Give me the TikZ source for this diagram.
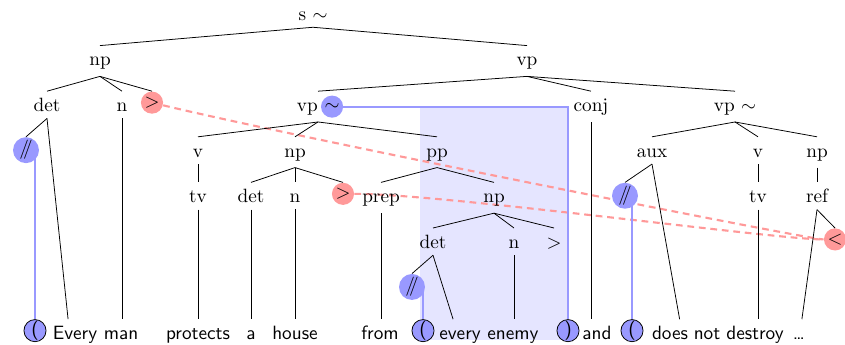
\documentclass[tikz,border=0pt]{standalone}
\usetikzlibrary{positioning,backgrounds,calc}

\begin{document}
\begin{tikzpicture}[
    x=0.52pt, y=-0.52pt,
    cat/.style={anchor=north, text height=7pt},
    wrd/.style={anchor=north, font=\sffamily, text height=7pt},
    dot/.style={circle, anchor=north, inner sep=0pt, minimum size=11.5pt},
    bluedot/.style={dot, fill=blue!40},
    reddot/.style={dot, fill=red!40},
    slashdot/.style={bluedot, minimum size=13.5pt},
    pardot/.style={bluedot, draw=black, font=\sffamily},
    scopeline/.style={blue!40, line width=1pt},
    moveline/.style={red!40, line width=1.1pt, dash pattern=on 3.5pt off 2.5pt}
]
\useasboundingbox (0,0) rectangle (845,345);

% top of the tree
\node[cat] (s) at (313,0) {s $\sim$};
\node[cat] (npT) at (100,45.6) {np};
\node[cat] (vpT) at (527,45.6) {vp};

% subject
\node[cat] (detA) at (47,91.2) {det};
\node[cat] (nA) at (122,91.2) {n};
\node[reddot] (gtA) at (152,91.2) {$>$};
\node[slashdot] (slashA) at (26,136.8) {/\kern-3pt/};

% first conjunct
\node[cat] (vpa) at (318,91.2) {vp $\sim$};
\node[bluedot, anchor=center] (tildeA) at ([xshift=-7.2pt, yshift=2.5pt]vpa.base east) {$\sim$};
\node[cat] (vA) at (198,136.8) {v};
\node[cat] (npA) at (295,136.8) {np};
\node[cat] (pp) at (437,136.8) {pp};
\node[cat] (tvA) at (198,182.4) {tv};
\node[cat] (detB) at (251,182.4) {det};
\node[cat] (nB) at (295,182.4) {n};
\node[reddot] (gtB) at (343,182.4) {$>$};
\node[cat] (prep) at (381,182.4) {prep};
\node[cat] (npB) at (494,182.4) {np};
\node[cat] (detC) at (433,228) {det};
\node[cat] (nC) at (514,228) {n};
\node[cat] (gtC) at (554,228) {$>$};
\node[slashdot] (slashB) at (412,273.6) {/\kern-3pt/};

% conjunction and second conjunct
\node[cat] (conj) at (591,91.2) {conj};
\node[cat] (vpb) at (735,91.2) {vp $\sim$};
\node[cat] (aux) at (652,136.8) {aux};
\node[cat] (vB) at (758,136.8) {v};
\node[cat] (npC) at (817,136.8) {np};
\node[slashdot] (slashC) at (625,182.4) {/\kern-3pt/};
\node[cat] (tvB) at (758,182.4) {tv};
\node[cat] (ref) at (817,182.4) {ref};
\node[reddot] (ltA) at (835,228) {$<$};

% the sentence
\node[pardot] (lparA) at (35,319.2) {(};
\node[wrd] (Every) at (75,319.2) {Every};
\node[wrd] (man) at (121,319.2) {man};
\node[wrd] (protects) at (198,319.2) {protects};
\node[wrd] (a) at (251,319.2) {a};
\node[wrd] (house) at (295,319.2) {house};
\node[wrd] (from) at (380,319.2) {from};
\node[pardot] (lparB) at (423,319.2) {(};
\node[wrd] (every) at (460,319.2) {every};
\node[wrd] (enemy) at (513,319.2) {enemy};
\node[pardot] (rpar) at (568,319.2) {)};
\node[wrd] (and) at (597,319.2) {and};
\node[pardot] (lparC) at (632,319.2) {(};
\node[wrd] (does) at (670,319.2) {does};
\node[wrd] (not) at (707,319.2) {not};
\node[wrd] (destroy) at (755,319.2) {destroy};
\node[wrd] (dots) at (799,319.2) {\dots};

% branches
\foreach \a/\b in {s/npT, s/vpT, npT/detA, npT/nA, npT/gtA, detA/slashA,
    vpT/vpa, vpT/conj, vpT/vpb, vpa/vA, vpa/npA, vpa/pp, vA/tvA,
    npA/detB, npA/nB, npA/gtB, pp/prep, pp/npB, npB/detC, npB/nC, npB/gtC,
    detC/slashB, vpb/aux, vpb/vB, vpb/npC, aux/slashC, vB/tvB, npC/ref, ref/ltA}
    \draw (\a.south) -- (\b.north);

% down to the words
\foreach \a/\b in {nA/man, tvA/protects, detB/a, nB/house, prep/from,
    nC/enemy, conj/and, tvB/destroy}
    \draw (\a.south) -- (\a.south |- \b.north);
\draw (detA.south) -- ([xshift=-3.6pt]Every.north);
\draw (detC.south) -- ([xshift=-3.6pt]every.north);
\draw (aux.south) -- ([xshift=5pt]does.north);
\draw (ref.south) -- ([xshift=1.5pt]dots.north);

% scope box and movement lines
\begin{scope}[on background layer]
  \fill[blue!10] (420,106) rectangle (568,340);
  \draw[moveline] (gtA) .. controls +(150,36) and +(-25,0) .. (ltA);
  \draw[moveline] (gtB) .. controls +(100,0) and +(-60,0) .. (ltA);
  \draw[scopeline] (tildeA) -| (rpar);
  \draw[scopeline] (lparA) -- (lparA |- slashA);
  \draw[scopeline] (lparB) -- (lparB |- slashB);
  \draw[scopeline] (lparC) -- (lparC |- slashC);
\end{scope}

\end{tikzpicture}
\end{document}
